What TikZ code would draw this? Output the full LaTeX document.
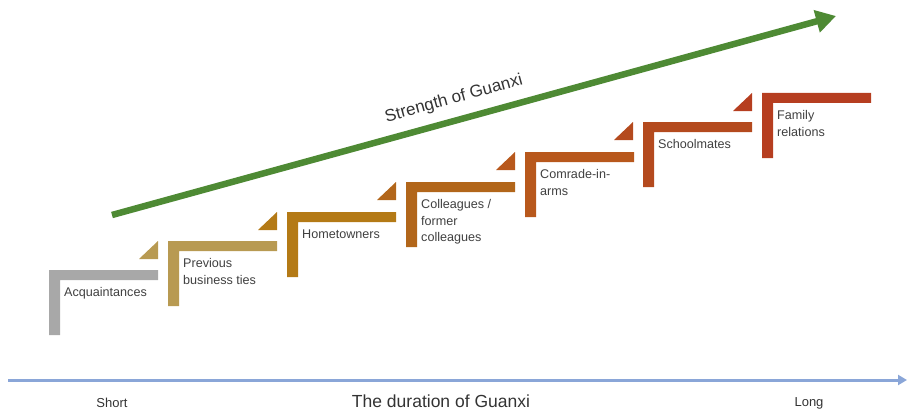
\documentclass[tikz,border=0pt]{standalone}
\usepackage{fontspec}
\setmainfont{Liberation Sans}
\usetikzlibrary{arrows.meta}
\usetikzlibrary{positioning}

\definecolor{tone1}{HTML}{A8A8A8}
\definecolor{tone2}{HTML}{B89A52}
\definecolor{tone3}{HTML}{B47A16}
\definecolor{tone4}{HTML}{B2661A}
\definecolor{tone5}{HTML}{B8581C}
\definecolor{tone6}{HTML}{B44A1E}
\definecolor{tone7}{HTML}{B63E20}
\definecolor{grow}{HTML}{4E8A34}
\definecolor{axis}{HTML}{8AA6D8}

\begin{document}
\begin{tikzpicture}[x=1pt, y=-1pt,
                stair/.style={insert path={-- ++(109,0) -- ++(0,10) -- ++(-98,0) -- ++(0,55) -- ++(-11,0) -- cycle}},
                tri/.style={insert path={++(-10,0) -- ++(0,18) -- ++(-19,0) -- cycle}},
                lbl/.style={anchor=north west, inner sep=0pt, align=left, text=black!75, font=\fontsize{12.6}{16.5}\selectfont},
                arrowg/.style={draw=grow, line width=6.5pt, -{Triangle[length=20pt, width=22pt]}},
                arrowx/.style={draw=axis, line width=3pt, -{Triangle[length=9pt, width=10pt]}},
                tick/.style={font=\fontsize{13}{15}\selectfont, text=black!80},
            ]
            \useasboundingbox (0,0) rectangle (911,412);
            % stair corners
            \coordinate (s1) at (49,270);
            \coordinate (s2) at (168,241);
            \coordinate (s3) at (287,212);
            \coordinate (s4) at (406,182);
            \coordinate (s5) at (525,152);
            \coordinate (s6) at (643,122);
            \coordinate (s7) at (762,93);
            \fill[tone1] (s1) [stair];
            \fill[tone2] (s2) [stair];
            \fill[tone2] (s2) [tri];
            \fill[tone3] (s3) [stair];
            \fill[tone3] (s3) [tri];
            \fill[tone4] (s4) [stair];
            \fill[tone4] (s4) [tri];
            \fill[tone5] (s5) [stair];
            \fill[tone5] (s5) [tri];
            \fill[tone6] (s6) [stair];
            \fill[tone6] (s6) [tri];
            \fill[tone7] (s7) [stair];
            \fill[tone7] (s7) [tri];
            \node[lbl] (t1) at ([shift={(15,17.5)}]s1) {Acquaintances};
            \node[lbl] (t2) at ([shift={(15,17.5)}]s2) {Previous\\business ties};
            \node[lbl] (t3) at ([shift={(15,17.5)}]s3) {Hometowners};
            \node[lbl] (t4) at ([shift={(15,17.5)}]s4) {Colleagues /\\former\\colleagues};
            \node[lbl] (t5) at ([shift={(15,17.5)}]s5) {Comrade-in-\\arms};
            \node[lbl] (t6) at ([shift={(15,17.5)}]s6) {Schoolmates};
            \node[lbl] (t7) at ([shift={(15,17.5)}]s7) {Family\\relations};
            % strength
            \coordinate (g0) at (112,215);
            \coordinate (g1) at (836,16);
            \path[arrowg] (g0) -- node[pos=0.48, sloped, above=10pt, inner sep=0pt, font=\fontsize{17}{19}\selectfont, text=black!80] (strength) {Strength of Guanxi} (g1);
            % duration
            \coordinate (x0) at (8,380);
            \coordinate (x1) at (907,380);
            \path[arrowx] (x0) -- (x1);
            \node[tick] (short) at (112,403) {Short};
            \node[tick, font=\fontsize{17.5}{20}\selectfont] (dur) at (441,401) {The duration of Guanxi};
            \node[tick] (long) at (809,403) {Long};
\end{tikzpicture}
\end{document}
